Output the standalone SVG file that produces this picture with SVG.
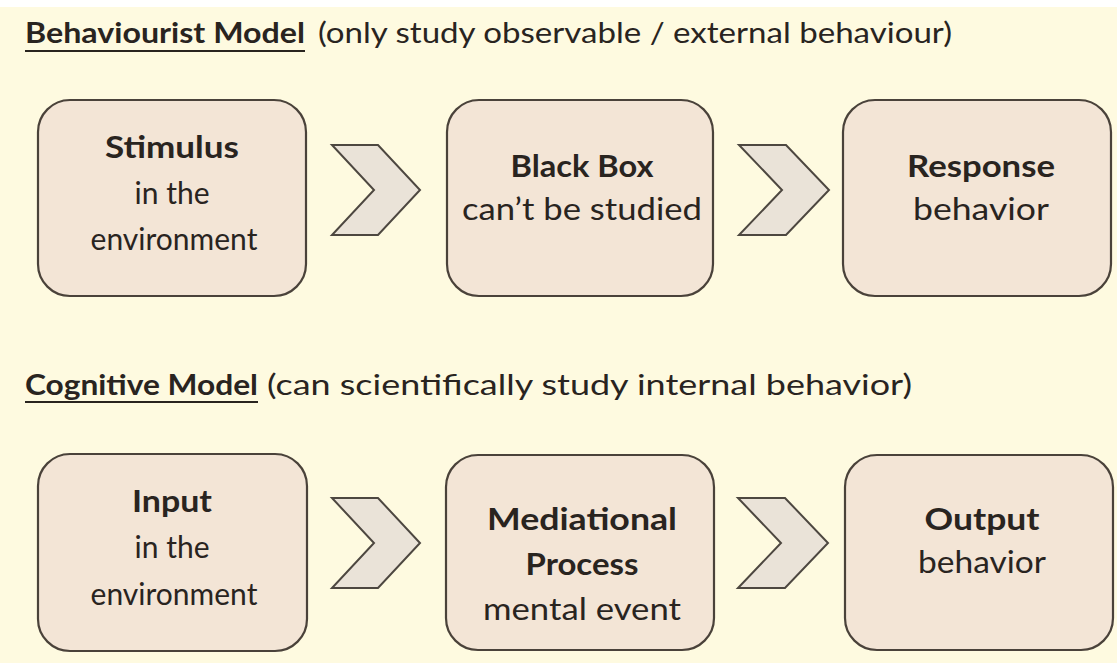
<svg xmlns="http://www.w3.org/2000/svg" width="1117" height="663" viewBox="0 0 1117 663">
<style>
.box{fill:#F3E5D6;stroke:#4a423a;stroke-width:2.2}
.chev{fill:#EAE3D8;stroke:#4d4740;stroke-width:2}
text{font-family:Lato,"Open Sans","Liberation Sans",sans-serif;font-size:28px;fill:#29241f}
.b{font-weight:bold}
.c{text-anchor:middle}
.n{font-size:30px}
.ul{stroke:#29241f;stroke-width:2}
</style>
<rect x="0" y="0" width="1117" height="663" fill="#FEFAE0"/>
<rect x="0" y="0" width="1117" height="7" fill="#FFFFFF"/>
<g id="title1">
<text x="25" y="43" class="b" textLength="280" lengthAdjust="spacingAndGlyphs">Behaviourist Model</text>
<text x="318" y="43" textLength="634" lengthAdjust="spacingAndGlyphs">(only study observable / external behaviour)</text>
<line class="ul" x1="25" y1="51" x2="305" y2="51"/>
</g>
<g id="title2">
<text x="25" y="395" class="b" textLength="233" lengthAdjust="spacingAndGlyphs">Cognitive Model</text>
<text x="267" y="395" textLength="645" lengthAdjust="spacingAndGlyphs">(can scientifically study internal behavior)</text>
<line class="ul" x1="25" y1="402" x2="258" y2="402"/>
</g>
<g id="stimulus">
<rect class="box" x="38" y="100" width="268" height="196" rx="32"/>
<text class="c b n" x="172" y="158" textLength="134" lengthAdjust="spacingAndGlyphs">Stimulus</text>
<text class="c n" x="172" y="204">in the</text>
<text class="c n" x="174" y="250">environment</text>
</g>
<g id="blackbox">
<rect class="box" x="447" y="100" width="266" height="196" rx="32"/>
<text class="c b n" x="582" y="177" textLength="143" lengthAdjust="spacingAndGlyphs">Black Box</text>
<text class="c n" x="582" y="220" textLength="240" lengthAdjust="spacingAndGlyphs">can’t be studied</text>
</g>
<g id="response">
<rect class="box" x="843" y="100" width="268" height="196" rx="32"/>
<text class="c b n" x="981" y="177" textLength="148" lengthAdjust="spacingAndGlyphs">Response</text>
<text class="c n" x="981" y="220" textLength="136" lengthAdjust="spacingAndGlyphs">behavior</text>
</g>
<g id="input">
<rect class="box" x="38" y="454" width="269" height="197" rx="32"/>
<text class="c b n" x="172" y="512" textLength="80" lengthAdjust="spacingAndGlyphs">Input</text>
<text class="c n" x="172" y="558">in the</text>
<text class="c n" x="174" y="605">environment</text>
</g>
<g id="mediational">
<rect class="box" x="446" y="455" width="268" height="195" rx="32"/>
<text class="c b n" x="582" y="530" textLength="190" lengthAdjust="spacingAndGlyphs">Mediational</text>
<text class="c b n" x="582" y="575" textLength="113" lengthAdjust="spacingAndGlyphs">Process</text>
<text class="c n" x="582" y="620" textLength="198" lengthAdjust="spacingAndGlyphs">mental event</text>
</g>
<g id="output">
<rect class="box" x="845" y="455" width="268" height="195" rx="32"/>
<text class="c b n" x="982" y="530" textLength="115" lengthAdjust="spacingAndGlyphs">Output</text>
<text class="c n" x="982" y="573" textLength="128" lengthAdjust="spacingAndGlyphs">behavior</text>
</g>
<g id="connectors">
<polygon class="chev" points="332,145 378,145 420,190 378,235 332,235 374,190"/>
<polygon class="chev" points="739,145 786,145 829,190 786,235 739,235 782,190"/>
<polygon class="chev" points="332,498 378,498 420,543 378,588 332,588 374,543"/>
<polygon class="chev" points="738,498 785,498 828,543 785,588 738,588 781,543"/>
</g>
</svg>
